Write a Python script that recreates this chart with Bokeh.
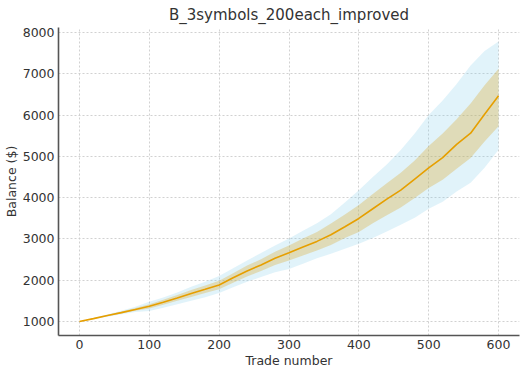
from bokeh.plotting import figure
from bokeh.models import ColumnDataSource, Range1d, FixedTicker
from bokeh.embed import file_html
from bokeh.resources import INLINE

# ---- data ----
trade = [0, 20, 40, 60, 80, 100, 120, 140, 160, 180, 200, 220, 240, 260, 280, 300,
         320, 340, 360, 380, 400, 420, 440, 460, 480, 500, 520, 540, 560, 580, 600]
median = [1000, 1070, 1145, 1215, 1290, 1368, 1465, 1570, 1680, 1780, 1885, 2060, 2225,
          2370, 2530, 2665, 2805, 2940, 3100, 3295, 3495, 3730, 3965, 4180, 4450, 4720,
          4970, 5290, 5560, 6020, 6466]
inner_hi = [1000, 1078, 1160, 1240, 1325, 1420, 1525, 1640, 1760, 1870, 1985, 2170, 2355,
            2510, 2690, 2840, 3010, 3170, 3370, 3590, 3820, 4090, 4350, 4600, 4900, 5250,
            5550, 5900, 6280, 6720, 7120]
inner_lo = [1000, 1062, 1130, 1192, 1258, 1315, 1405, 1500, 1595, 1690, 1780, 1940, 2090,
            2220, 2370, 2475, 2600, 2720, 2850, 3020, 3165, 3380, 3570, 3760, 3990, 4230,
            4430, 4700, 4960, 5360, 5730]
outer_hi = [1000, 1085, 1172, 1260, 1355, 1480, 1580, 1705, 1840, 1960, 2100, 2290, 2480,
            2660, 2840, 3010, 3200, 3380, 3600, 3880, 4180, 4500, 4800, 5150, 5550, 6000,
            6350, 6750, 7200, 7550, 7780]
outer_lo = [1000, 1055, 1115, 1175, 1230, 1255, 1330, 1415, 1500, 1590, 1690, 1830, 1960,
            2080, 2190, 2270, 2400, 2530, 2640, 2760, 2880, 3020, 3180, 3340, 3510, 3730,
            3900, 4150, 4360, 4720, 5160]
x_ticks = [0, 100, 200, 300, 400, 500, 600]
y_ticks = [1000, 2000, 3000, 4000, 5000, 6000, 7000, 8000]

src = ColumnDataSource(dict(trade=trade, median=median, inner_hi=inner_hi,
                            inner_lo=inner_lo, outer_hi=outer_hi, outer_lo=outer_lo))

FONT = "DejaVu Sans"
TXT = "#333333"

p = figure(frame_width=461, frame_height=308, output_backend="svg", toolbar_location=None,
           x_range=Range1d(-30, 630), y_range=Range1d(661, 8119),
           min_border_left=50, min_border_right=1, min_border_top=22, min_border_bottom=20,
           title="B_3symbols_200each_improved")
p.outline_line_color = None
p.background_fill_color = "white"
p.border_fill_color = "white"

p.title.align = "center"
p.title.text_font = FONT
p.title.text_font_size = "15px"
p.title.text_font_style = "normal"
p.title.text_color = TXT
p.title.standoff = 7

p.varea(x="trade", y1="outer_lo", y2="outer_hi", source=src,
        fill_color="#87ceeb", fill_alpha=0.25)
p.varea(x="trade", y1="inner_lo", y2="inner_hi", source=src,
        fill_color="#daa520", fill_alpha=0.3)
p.line(x="trade", y="median", source=src, line_color="#e69f00", line_width=1.6)

for ax in (p.xaxis[0], p.yaxis[0]):
    ax.axis_line_color = "#555555"
    ax.axis_line_width = 1.6
    ax.major_tick_line_color = None
    ax.minor_tick_line_color = None
    ax.major_tick_out = 0
    ax.major_tick_in = 0
    ax.major_label_text_font = FONT
    ax.major_label_text_font_size = "12.5px"
    ax.major_label_text_color = TXT
    ax.axis_label_text_font = FONT
    ax.axis_label_text_font_size = "12.5px"
    ax.axis_label_text_font_style = "normal"
    ax.axis_label_text_color = TXT

p.xaxis.ticker = FixedTicker(ticks=x_ticks)
p.yaxis.ticker = FixedTicker(ticks=y_ticks)
p.xaxis.axis_label = "Trade number"
p.yaxis.axis_label = "Balance ($)"
p.xaxis.major_label_standoff = 4
p.xaxis.axis_label_standoff = 1
p.yaxis.major_label_standoff = 4
p.yaxis.axis_label_standoff = 1

for g in (p.xgrid[0], p.ygrid[0]):
    g.grid_line_color = "#cccccc"
    g.grid_line_dash = "2 2"
    g.grid_line_width = 1
    g.grid_line_alpha = 0.9

open("out.html", "w").write(file_html(p, INLINE))
